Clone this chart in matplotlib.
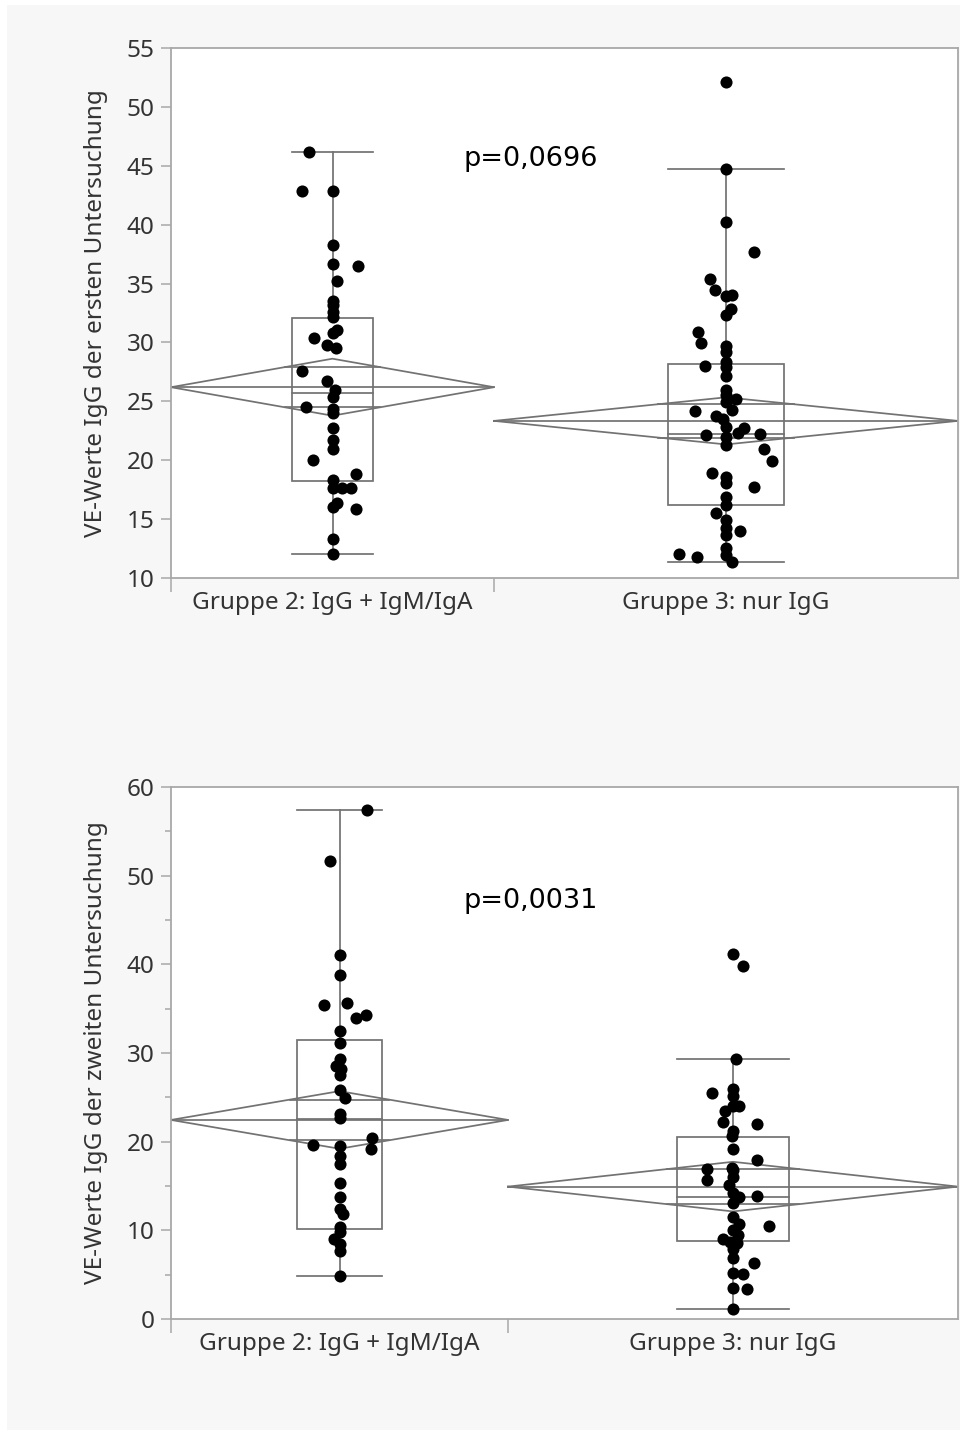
import matplotlib
matplotlib.use("Agg")
import matplotlib.pyplot as plt
import numpy as np
from matplotlib.patches import Rectangle
from matplotlib.ticker import MultipleLocator, FixedLocator

plt.rcParams['font.family'] = ['Noto Sans', 'DejaVu Sans']

# ---------------- data ----------------
groups = ["Gruppe 2: IgG + IgM/IgA", "Gruppe 3: nur IgG"]

first_g2 = [46.2, 42.86, 42.86, 38.28, 36.64, 36.5, 35.22, 33.55, 33.18, 32.6, 32.2,
            31.06, 30.78, 30.4, 29.8, 29.5, 27.58, 26.75, 25.97, 25.4, 24.55, 24.33,
            24.05, 22.77, 21.72, 20.93, 20.03, 18.84, 18.33, 17.67, 17.67, 17.67,
            16.35, 16.06, 15.84, 13.3, 12.05]
first_g3 = [52.14, 44.73, 40.26, 37.71, 35.36, 34.46, 33.95, 34.0, 32.8, 32.33, 30.92,
            29.93, 29.7, 29.22, 28.37, 28.0, 27.9, 27.16, 25.97, 25.55, 25.18, 24.98,
            24.27, 24.21, 23.76, 23.48, 22.85, 22.72, 22.34, 22.15, 22.2, 21.96, 21.3,
            20.93, 19.97, 18.95, 18.61, 18.05, 17.76, 16.91, 16.2, 15.5, 14.93, 14.22,
            14.02, 13.66, 12.53, 12.05, 11.77, 11.96, 11.39]
second_g2 = [57.37, 51.67, 41.01, 38.8, 35.45, 35.6, 33.93, 34.28, 32.53, 31.12, 29.32,
             28.52, 28.19, 27.5, 25.86, 24.95, 23.12, 22.67, 19.58, 20.46, 19.13, 19.51,
             18.36, 17.49, 15.32, 13.8, 12.46, 11.79, 10.38, 9.8, 8.97, 8.47, 7.72, 4.85]
second_g3 = [41.13, 39.81, 29.36, 25.45, 25.94, 25.19, 24.06, 23.46, 24.06, 22.18, 21.99,
             21.2, 20.67, 19.14, 17.93, 16.92, 17.07, 16.8, 15.68, 16.05, 15.11, 14.18,
             13.8, 13.87, 13.05, 11.54, 10.68, 10.53, 10.04, 9.48, 8.99, 8.72, 8.53,
             7.86, 6.85, 6.36, 5.22, 5.04, 3.53, 3.42, 1.13]

# summary statistics (per group)
first_q1 = [18.27, 16.2]
first_median = [25.7, 22.2]
first_q3 = [32.1, 28.17]
first_mean = [26.2, 23.34]
first_ci = [2.42, 2.0]

second_q1 = [10.12, 8.8]
second_median = [22.55, 13.8]
second_q3 = [31.47, 20.56]
second_mean = [22.45, 14.93]
second_ci = [3.25, 2.8]

first_p = "p=0,0696"
second_p = "p=0,0031"
first_ylabel = "VE-Werte IgG der ersten Untersuchung"
second_ylabel = "VE-Werte IgG der zweiten Untersuchung"

# ---------------- layout / style ----------------
first_widths = [323, 464]      # group widths (proportional to n, JMP style)
second_widths = [337, 450]
jitter_first_g2 = [-23.5, -30.5, 0, 0, 0, 25.5, 4.5, 0, 0, 0, 0, 4.5, 0, -18.5, -5.5, 3,
                   -30.5, -5.5, 2.5, 0, -26.5, 0, 0, 0, 0, 0, -19.5, 23.5, 0, 0, 9, 18,
                   4, 0, 23.5, 0, 0]
jitter_first_g3 = [0, 0, 0, 28, -15.7, -11, 0, 6.3, 5, 0, -27.7, -24.7, 0, 0, 0, -21, 0,
                   0, 0, 0, 10, 0, 5.6, -30.7, -10, -2.7, 0, 17.6, 11.6, -20, 34, 0, 0,
                   38.3, 46, -14, 0, 0, 27.6, 0, 0, -10, 0, 0, 14, 0, 0, -46.7, -29.4,
                   0, 5.6]
jitter_second_g2 = [27, -10, 0, 0, -15.9, 7.8, 16.9, 26.3, 0, 0, 0, -3.4, 1, 0, 0, 5, 0,
                    0, -27, 32.4, 31.4, 0, 0, 0, 0, 0, 0, 3.4, 0, 0, -5.7, 0, 0, 0]
jitter_second_g3 = [0, 10, 3, -21, 0, 0, 6, -8, 0, -10, 24, 0, -1.5, 0, 24, -26, -1.5, 0,
                    -26, 0, -4, 0, 6, 23.7, 0, 0, 6, 36, 0, 5, -10, -3, 3.7, 0, 0, 21,
                    0, 10, 0, 13.7, 0]

LINE = '#727272'
SPINE = '#a8a8a8'
TXT = '#333333'
FS = 17.5
FIG_W, FIG_H = 960, 1430

fig = plt.figure(figsize=(FIG_W / 100, FIG_H / 100), dpi=100, facecolor='white')
fig.patches.append(Rectangle((7 / FIG_W, 0), 1 - 7 / FIG_W, 1 - 5 / FIG_H,
                             transform=fig.transFigure, facecolor='#f7f7f7',
                             edgecolor='none', zorder=-10))


def px_axes(left, top, right, bottom):
    return fig.add_axes([left / FIG_W, 1 - bottom / FIG_H,
                         (right - left) / FIG_W, (bottom - top) / FIG_H])


def whiskers(vals, q1, q3):
    v = np.asarray(vals)
    iqr = q3 - q1
    hi = v[v <= q3 + 1.5 * iqr].max()
    lo = v[v >= q1 - 1.5 * iqr].min()
    return lo, hi


def panel(ax, data, jitters, widths, q1, med, q3, mean, ci, ylim, major, minor,
          ylabel, ptext, ptext_y):
    W = sum(widths)
    ax.set_xlim(0, W)
    ax.set_ylim(*ylim)
    lw = 1.25
    left = 0
    centers = []
    for i in range(len(widths)):
        w = widths[i]
        c = left + w / 2
        centers.append(c)
        bw = 0.25 * w
        m = mean[i]
        # means diamond
        ax.plot([left, c, left + w, c, left], [m, m + ci[i], m, m - ci[i], m],
                color=LINE, lw=lw, zorder=2)
        ax.plot([left, left + w], [m, m], color=LINE, lw=lw, zorder=2)
        h = ci[i] / np.sqrt(2)
        hw = w / 2 * (1 - 1 / np.sqrt(2))
        for s in (1, -1):
            ax.plot([c - hw, c + hw], [m + s * h] * 2, color=LINE, lw=lw, zorder=2)
        # box plot
        ax.add_patch(Rectangle((c - bw / 2, q1[i]), bw, q3[i] - q1[i], fill=False,
                               edgecolor=LINE, lw=lw, zorder=2))
        ax.plot([c - bw / 2, c + bw / 2], [med[i]] * 2, color=LINE, lw=lw, zorder=2)
        lo, hi = whiskers(data[i], q1[i], q3[i])
        ax.plot([c, c], [q3[i], hi], color=LINE, lw=lw, zorder=2)
        ax.plot([c, c], [lo, q1[i]], color=LINE, lw=lw, zorder=2)
        for y in (lo, hi):
            ax.plot([c - bw / 2, c + bw / 2], [y, y], color=LINE, lw=lw, zorder=2)
        # points
        xs = c + np.asarray(jitters[i])
        ax.scatter(xs, data[i], s=76, color='black', linewidths=0, zorder=5)
        left += w

    ax.xaxis.set_major_locator(FixedLocator([0, widths[0]]))
    ax.xaxis.set_major_formatter(plt.NullFormatter())
    ax.set_xticks(centers, groups, minor=True)
    ax.tick_params(axis='x', which='major', length=10, width=1.1, color=SPINE)
    ax.tick_params(axis='x', which='minor', length=0, labelsize=FS,
                   labelcolor=TXT, pad=9)
    ax.yaxis.set_major_locator(MultipleLocator(major))
    if minor:
        ax.yaxis.set_minor_locator(MultipleLocator(minor))
    ax.tick_params(axis='y', which='major', length=7, width=1.1, color=SPINE,
                   labelsize=FS, labelcolor=TXT, pad=5)
    ax.tick_params(axis='y', which='minor', length=4, width=1.1, color=SPINE)
    for sp in ax.spines.values():
        sp.set_color(SPINE)
        sp.set_linewidth(1.3)
    ax.set_ylabel(ylabel, fontsize=FS, color=TXT)
    ax.yaxis.set_label_coords(-0.08, 0.5)
    ax.text(293, ptext_y, ptext, fontsize=19.5, family=['DejaVu Sans'],
            color='black', ha='left', va='center')


ax1 = px_axes(171, 48, 958, 578)
panel(ax1, [first_g2, first_g3], [jitter_first_g2, jitter_first_g3], first_widths,
      first_q1, first_median, first_q3, first_mean, first_ci, (10, 55), 5, None,
      first_ylabel, first_p, 45.6)

ax2 = px_axes(171, 787, 958, 1319)
panel(ax2, [second_g2, second_g3], [jitter_second_g2, jitter_second_g3], second_widths,
      second_q1, second_median, second_q3, second_mean, second_ci, (0, 60), 10, 5,
      second_ylabel, second_p, 47.1)

fig.savefig("out.png", dpi=100, facecolor=fig.get_facecolor())
